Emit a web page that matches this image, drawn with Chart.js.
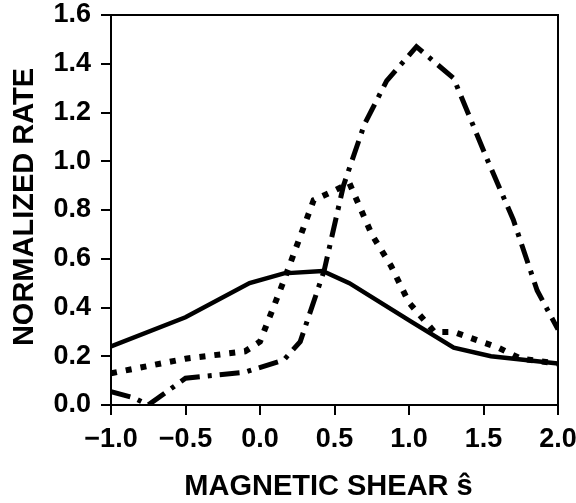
<!DOCTYPE html>
<html>
<head>
<meta charset="utf-8">
<script src="https://cdn.jsdelivr.net/npm/chart.js@4/dist/chart.umd.min.js"></script>
<style>
  html, body { margin: 0; padding: 0; background: #fff; }
  #wrap { width: 576px; height: 503px; }
</style>
</head>
<body>
<div id="wrap"><canvas id="myChart" width="576" height="503"></canvas></div>
<script>
// values
let solidShear = [-1.0, -0.5, -0.07, 0.16, 0.42, 0.6, 1.02, 1.3, 1.55, 2.0];
let solidRate  = [0.24, 0.36, 0.50, 0.54, 0.55, 0.50, 0.34, 0.235, 0.20, 0.17];

let dotShear = [-1.0, -0.5, -0.1, 0.0, 0.16, 0.36, 0.5, 0.6, 0.75, 0.88, 1.0, 1.17, 1.3, 1.6, 1.75, 2.0];
let dotRate  = [0.13, 0.19, 0.22, 0.26, 0.51, 0.84, 0.88, 0.91, 0.70, 0.57, 0.42, 0.30, 0.30, 0.235, 0.19, 0.17];

let dashDotShear = [-1.0, -0.85, -0.75, -0.5, -0.1, 0.16, 0.27, 0.43, 0.56, 0.7, 0.85, 1.05, 1.3, 1.53, 1.7, 1.86, 2.0];
let dashDotRate  = [0.055, 0.03, 0.0, 0.11, 0.135, 0.185, 0.26, 0.55, 0.90, 1.15, 1.33, 1.47, 1.34, 1.0, 0.76, 0.47, 0.31];

let xTitle = 'MAGNETIC SHEAR \u015D';
let yTitle = 'NORMALIZED RATE';

const fontFamily = "'Liberation Sans', Arial, sans-serif";

function pts(xs, ys) {
    return xs.map((x, i) => ({ x: x, y: ys[i] }));
}

// box around the plot and the two axis titles
const frame = {
    id: 'frame',
    afterDraw(chart) {
        const { ctx, chartArea: a } = chart;
        ctx.save();
        ctx.strokeStyle = '#000';
        ctx.lineWidth = 2;
        ctx.strokeRect(a.left, a.top, a.right - a.left, a.bottom - a.top);
        ctx.fillStyle = '#000';
        ctx.font = 'bold 29px ' + fontFamily;
        ctx.textAlign = 'center';
        ctx.textBaseline = 'alphabetic';
        ctx.fillText(xTitle, (a.left + a.right) / 2 - 6, 495);
        ctx.translate(33, (a.top + a.bottom) / 2 - 3);
        ctx.rotate(-Math.PI / 2);
        ctx.fillText(yTitle, 0, 0);
        ctx.restore();
    }
};

let ctx = document.getElementById('myChart');

let myChart = new Chart(ctx, {
    type: 'line',
    data: {
        datasets: [{
            data: pts(solidShear, solidRate),
            borderColor: '#000',
            borderWidth: 4.5,
            pointRadius: 0,
            tension: 0
        }, {
            data: pts(dotShear, dotRate),
            borderColor: '#000',
            borderWidth: 6,
            borderDash: [6, 9],
            pointRadius: 0,
            tension: 0
        }, {
            data: pts(dashDotShear, dashDotRate),
            borderColor: '#000',
            borderWidth: 5,
            borderDash: [20, 8, 4, 8],
            pointRadius: 0,
            tension: 0
        }]
    },
    options: {
        responsive: false,
        animation: false,
        layout: { padding: { top: 15, right: 18, left: 0, bottom: 0 } },
        plugins: {
            legend: { display: false },
            tooltip: { enabled: false }
        },
        scales: {
            x: {
                type: 'linear',
                min: -1,
                max: 2,
                afterFit(scale) {
                    scale.height = 98;
                    scale.paddingLeft = 0;
                    scale.paddingRight = 0;
                },
                grid: { drawOnChartArea: false, tickLength: 10, color: '#000', lineWidth: 2 },
                border: { color: '#000', width: 2 },
                ticks: {
                    stepSize: 0.5,
                    padding: 8,
                    color: '#000',
                    font: { family: fontFamily, size: 27, weight: 'bold' },
                    callback: v => (v < 0 ? '\u2212' : '') + Math.abs(v).toFixed(1)
                }
            },
            y: {
                min: 0,
                max: 1.6,
                afterFit(scale) {
                    scale.width = 111;
                    scale.paddingTop = 0;
                    scale.paddingBottom = 0;
                },
                grid: { drawOnChartArea: false, tickLength: 10, color: '#000', lineWidth: 2 },
                border: { color: '#000', width: 2 },
                ticks: {
                    stepSize: 0.2,
                    padding: 10,
                    color: '#000',
                    font: { family: fontFamily, size: 27, weight: 'bold' },
                    callback: v => v.toFixed(1)
                }
            }
        }
    },
    plugins: [frame]
});
</script>
</body>
</html>
